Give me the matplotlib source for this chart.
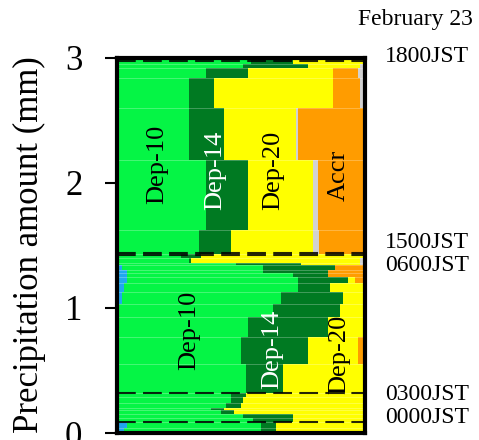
import numpy as np
import matplotlib
matplotlib.use("Agg")
import matplotlib.pyplot as plt
import matplotlib.transforms as mtransforms

plt.rcParams['font.family'] = ['Liberation Serif', 'DejaVu Serif']

# Row edges (precipitation amount, mm), bottom to top
row_bottom = [0.00, 0.04, 0.09, 0.12, 0.15, 0.18, 0.20, 0.24, 0.29, 0.32,
              0.55, 0.77, 0.93, 1.03, 1.13, 1.20, 1.25, 1.28, 1.30, 1.34,
              1.36, 1.40, 1.43, 1.62, 2.18, 2.60, 2.84, 2.92, 2.95]
row_top = row_bottom[1:] + [3.00]

# Fraction (%) of each category in each row
blue    = [3, 4, 0, 0, 0, 0, 0, 0, 0, 0, 0, 0, 0, 2, 3, 4, 4, 4, 2, 0, 0, 0, 0, 0, 0, 0, 0, 0, 0]
dep10   = [55, 54, 55, 51, 42, 38, 44, 46, 46, 52, 50, 53, 63, 64, 70, 69, 67, 55, 57, 48, 29, 26,
           33, 36, 29, 29, 36, 51, 54]
dep14   = [6, 6, 16, 20, 5, 5, 6, 5, 6, 15, 27, 32, 27, 25, 13, 20, 14, 26, 29, 26, 1, 8,
           13, 17, 14, 10, 17, 26, 17]
dep20   = [36, 36, 29, 29, 53, 57, 50, 49, 48, 33, 20, 15, 10, 9, 14, 3, 0, 0, 0, 24, 68, 66,
           33, 26, 29, 48, 34, 21, 29]
mixed   = [0, 0, 0, 0, 0, 0, 0, 0, 0, 0, 0, 0, 0, 0, 0, 0, 0, 0, 0, 0, 0, 0,
           2.5, 2, 1, 0, 0, 0, 0]
accr    = [0, 0, 0, 0, 0, 0, 0, 0, 0, 0, 3, 0, 0, 0, 0, 4, 15, 15, 12, 0, 0, 0,
           18.5, 19, 27, 11, 10, 0, 0]
other   = [0, 0, 0, 0, 0, 0, 0, 0, 0, 0, 0, 0, 0, 0, 0, 0, 0, 0, 0, 2, 2, 0,
           0, 0, 0, 2, 3, 2, 0]

series = [blue, dep10, dep14, dep20, mixed, accr, other]
colors = ['#20a8ee', '#05f545', '#007a22', '#ffff00', '#d2d2d2', '#ff9c00', '#d2d2d2']

# Observation times
time_labels = ['1800JST', '1500JST', '0600JST', '0300JST', '0000JST']
time_amount = [2.97, 1.435, 1.425, 0.32, 0.09]
label_y = [3.01, 1.52, 1.335, 0.31, 0.125]

# Category labels inside the plot: (text, x %, y mm, color)
cat_labels = [('Dep-10', 16.3, 2.15, 'black'), ('Dep-14', 39.5, 2.10, 'white'),
              ('Dep-20', 62.9, 2.10, 'black'), ('Accr', 89.5, 2.06, 'black'),
              ('Dep-10', 29.0, 0.82, 'black'), ('Dep-14', 62.5, 0.67, 'white'),
              ('Dep-20', 89.5, 0.63, 'black')]

fig = plt.figure(figsize=(4.79, 4.4), dpi=100)
ax = fig.add_axes([117 / 479, 1 - 433 / 440, 248 / 479, 375.5 / 440])

heights = np.array(row_top) - np.array(row_bottom)
left = np.zeros(len(row_bottom))
for vals, c in zip(series, colors):
    vals = np.array(vals, dtype=float)
    ax.barh(row_bottom, vals, height=heights, left=left.copy(), align='edge',
            color=c, edgecolor='none', linewidth=0)
    left += vals

# faint separators between rows
for yb in row_bottom[1:]:
    ax.axhline(yb, color='white', lw=0.6, alpha=0.3)

for t in time_amount:
    ax.axhline(t, color='black', lw=1.5, dashes=(9, 3.5), alpha=0.85)

for txt, x, y, c in cat_labels:
    ax.text(x, y, txt, rotation=90, ha='center', va='center', color=c, fontsize=19)

ax.set_xlim(0, 100)
ax.set_ylim(0, 3)
ax.set_xticks([])
ax.set_yticks([0, 1, 2, 3])
ax.tick_params(axis='y', length=9, width=1.5, labelsize=25, pad=16)
for s in ax.spines.values():
    s.set_linewidth(3)

fig.text(29 / 479, 1 - 245 / 440, 'Precipitation amount (mm)', rotation=90,
         ha='center', va='center', fontsize=25)

trans = mtransforms.blended_transform_factory(ax.transAxes, ax.transData)
for lab, y in zip(time_labels, label_y):
    ax.text(1.08, y, lab, transform=trans, ha='left', va='center', fontsize=17, clip_on=False)
ax.text(1.435, 3.30, 'February 23', transform=trans, ha='right', va='center',
        fontsize=17, clip_on=False)

fig.savefig('out.png', dpi=100)
